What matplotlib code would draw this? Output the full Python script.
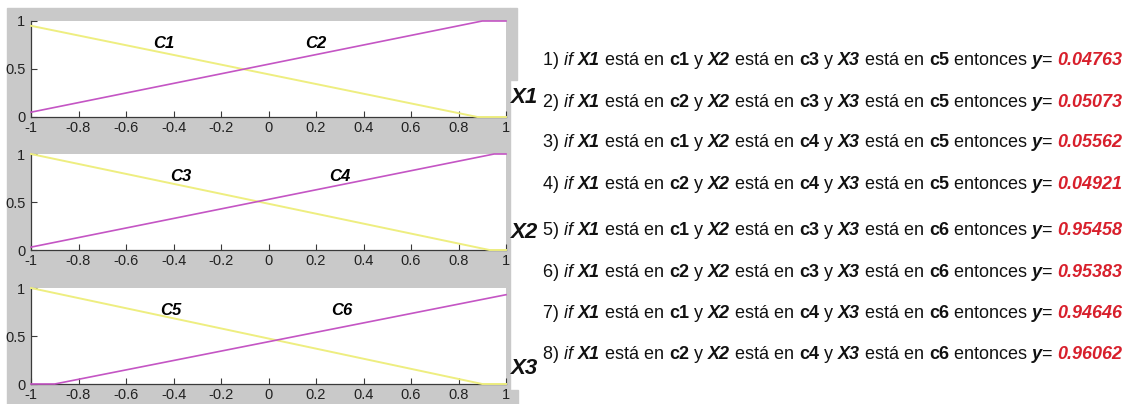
import numpy as np
import matplotlib
matplotlib.use('Agg')
import matplotlib.pyplot as plt
from matplotlib.patches import Rectangle

W, H = 1132, 404
plt.rcParams['font.family'] = ['Liberation Sans', 'DejaVu Sans']

# membership functions (breakpoints) for each input
x1_c1_x = [-1, 0.88, 1]
x1_c1_y = [0.95, 0, 0]
x1_c2_x = [-1, 0.90, 1]
x1_c2_y = [0.05, 1, 1]
x2_c3_x = [-1, 0.93, 1]
x2_c3_y = [1, 0, 0]
x2_c4_x = [-1, 0.95, 1]
x2_c4_y = [0.03, 1, 1]
x3_c5_x = [-1, 0.90, 1]
x3_c5_y = [1, 0, 0]
x3_c6_x = [-1, -0.90, 1]
x3_c6_y = [0, 0, 0.93]

set_names = [('C1', 'C2'), ('C3', 'C4'), ('C5', 'C6')]
input_names = ['X1', 'X2', 'X3']

x_ticks = [-1, -0.8, -0.6, -0.4, -0.2, 0, 0.2, 0.4, 0.6, 0.8, 1]
x_ticklabels = ['-1', '-0.8', '-0.6', '-0.4', '-0.2', '0', '0.2', '0.4', '0.6', '0.8', '1']
y_ticks = [0, 0.5, 1]
y_ticklabels = ['0', '0.5', '1']

# rule base
rule_x1 = ['c1', 'c2', 'c1', 'c2', 'c1', 'c2', 'c1', 'c2']
rule_x2 = ['c3', 'c3', 'c4', 'c4', 'c3', 'c3', 'c4', 'c4']
rule_x3 = ['c5', 'c5', 'c5', 'c5', 'c6', 'c6', 'c6', 'c6']
rule_y = ['0.04763', '0.05073', '0.05562', '0.04921', '0.95458', '0.95383', '0.94646', '0.96062']

fig = plt.figure(figsize=(W / 100, H / 100), dpi=100)
fig.patch.set_facecolor('white')

gray = '#c9c9c9'
def px_rect(x0, y0, x1, y1):
    fig.patches.append(Rectangle((x0 / W, 1 - y1 / H), (x1 - x0) / W, (y1 - y0) / H,
                                 transform=fig.transFigure, color=gray, zorder=0))
px_rect(7, 8, 510, 404)
px_rect(510, 8, 517, 80)
px_rect(510, 390, 518, 404)

curves = [((x1_c1_x, x1_c1_y), (x1_c2_x, x1_c2_y)),
          ((x2_c3_x, x2_c3_y), (x2_c4_x, x2_c4_y)),
          ((x3_c5_x, x3_c5_y), (x3_c6_x, x3_c6_y))]
ax_px = [(21, 117), (154, 250), (288, 384)]
label_pos = [((-0.44, 0.77), (0.20, 0.77)),
             ((-0.37, 0.77), (0.30, 0.77)),
             ((-0.41, 0.77), (0.31, 0.77))]

for i, (top, bot) in enumerate(ax_px):
    ax = fig.add_axes([31 / W, 1 - bot / H, 475 / W, (bot - top) / H], zorder=2)
    ax.set_facecolor('white')
    (lx, ly), (hx, hy) = curves[i]
    ax.plot(lx, ly, color='#eeee80', lw=1.4, zorder=3, clip_on=False)
    ax.plot(hx, hy, color='#c455c4', lw=1.2, zorder=3, clip_on=False)
    ax.set_xlim(-1, 1)
    ax.set_ylim(0, 1)
    ax.set_xticks(x_ticks)
    ax.set_xticklabels(x_ticklabels)
    ax.set_yticks(y_ticks)
    ax.set_yticklabels(y_ticklabels)
    for s in ['top', 'right']:
        ax.spines[s].set_visible(False)
    for s in ['left', 'bottom']:
        ax.spines[s].set_color('#3a3a3a')
        ax.spines[s].set_linewidth(0.9)
    ax.tick_params(direction='in', length=4, width=0.8, color='#3a3a3a',
                   labelsize=10.5, labelcolor='#222222')
    ax.tick_params(axis='x', pad=3)
    ax.tick_params(axis='y', pad=4)
    for name, (px, py) in zip(set_names[i], label_pos[i]):
        ax.text(px, py, name, fontsize=12, fontweight='bold', fontstyle='italic',
                ha='center', va='center')

renderer = fig.canvas.get_renderer()

NORMAL = dict()
IT = dict(fontstyle='italic')
BF = dict(fontweight='bold')
BI = dict(fontweight='bold', fontstyle='italic')
RED = dict(fontweight='bold', fontstyle='italic', color='#d8202c')

fs = 13

def advance(txt, style):
    # advance width incl. spaces: measure between two bracketing glyphs
    kw = dict(fontsize=fs, fontweight=style.get('fontweight', 'normal'),
              fontstyle=style.get('fontstyle', 'normal'))
    a = fig.text(0, 0, 'H' + txt + 'H', **kw)
    b = fig.text(0, 0, 'HH', **kw)
    w = a.get_window_extent(renderer).width - b.get_window_extent(renderer).width
    a.remove()
    b.remove()
    return w

def rich_line(x_px, y_px, pieces):
    x = x_px
    for txt, style in pieces:
        fig.text(x / W, 1 - y_px / H, txt, fontsize=fs, ha='left', va='baseline',
                 color=style.get('color', '#111111'),
                 fontweight=style.get('fontweight', 'normal'),
                 fontstyle=style.get('fontstyle', 'normal'))
        x += advance(txt, style)

row_y = [65, 107, 147, 189, 235, 277, 318, 359]
for k in range(8):
    pieces = [('%d) ' % (k + 1), NORMAL), ('if ', IT), ('X1', BI), (' está en ', NORMAL),
              (rule_x1[k], BF), (' y ', NORMAL), ('X2', BI), (' está en ', NORMAL),
              (rule_x2[k], BF), (' y ', NORMAL), ('X3', BI), (' está en ', NORMAL),
              (rule_x3[k], BF), (' entonces ', NORMAL), ('y', BI), ('= ', NORMAL),
              (rule_y[k], RED)]
    rich_line(543, row_y[k], pieces)

for name, yb in zip(input_names, [103, 238, 374]):
    fig.text(510 / W, 1 - yb / H, name, fontsize=16, fontweight='bold', fontstyle='italic',
             ha='left', va='baseline', color='#111111')

fig.savefig('out.png', dpi=100, facecolor='white')
